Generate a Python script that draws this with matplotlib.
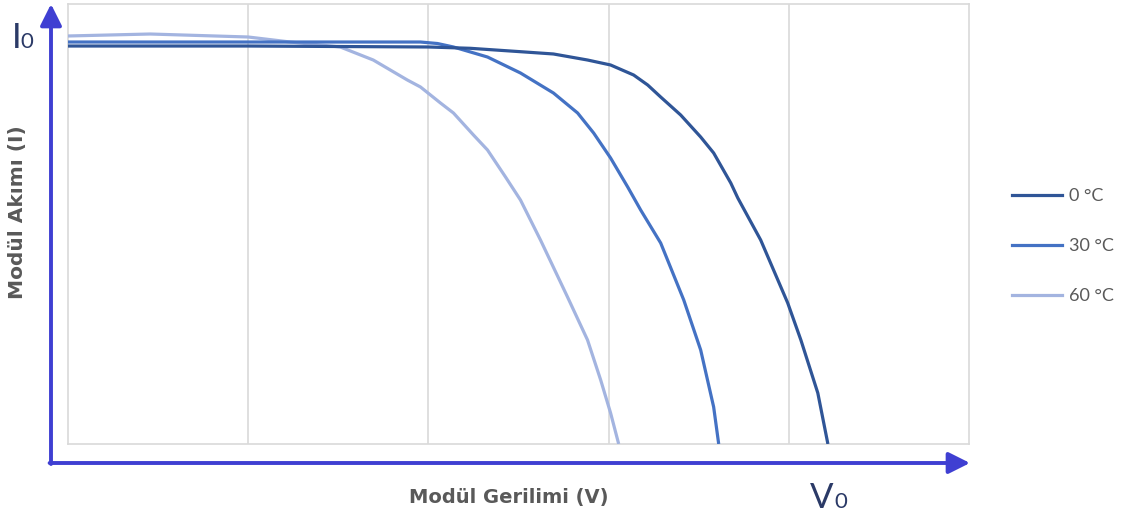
import matplotlib
matplotlib.use("Agg")
import matplotlib.pyplot as plt
from matplotlib.lines import Line2D
from matplotlib.patches import FancyArrowPatch

plt.rcParams['font.family'] = ['Lato', 'DejaVu Sans']

# Data (voltage in grid units 0..5, current in units 0..10)
v_0c = [0, 1, 2, 2.233, 2.511, 2.694, 2.883, 3.011, 3.139, 3.217, 3.289, 3.4, 3.511, 3.583,
        3.678, 3.717, 3.844, 3.994, 4.067, 4.161, 4.217]
i_0c = [9.045, 9.045, 9.023, 8.993, 8.916, 8.864, 8.727, 8.614, 8.386, 8.159, 7.886, 7.477, 6.977, 6.614,
        5.932, 5.591, 4.636, 3.205, 2.364, 1.159, 0.0]

v_30c = [0, 1, 1.956, 2.05, 2.139, 2.328, 2.511, 2.694, 2.828, 2.917, 3.011, 3.106, 3.178, 3.289, 3.417,
         3.511, 3.583, 3.611]
i_30c = [9.136, 9.136, 9.136, 9.102, 9.023, 8.795, 8.432, 7.977, 7.523, 7.068, 6.5, 5.841, 5.318, 4.568, 3.273,
         2.136, 0.841, 0.0]

v_60c = [0, 0.456, 1, 1.233, 1.511, 1.694, 1.883, 1.956, 2.067, 2.139, 2.25, 2.328, 2.428, 2.511,
         2.622, 2.772, 2.883, 2.956, 3.011, 3.056]
i_60c = [9.273, 9.318, 9.25, 9.136, 9.023, 8.727, 8.273, 8.114, 7.75, 7.523, 7.023, 6.682, 6.068, 5.545,
         4.636, 3.341, 2.364, 1.455, 0.705, 0.0]

labels = ["0 °C", "30 °C", "60 °C"]
colors = ["#2F5597", "#4472C4", "#A3B4E0"]

W, H = 1126, 517
fig = plt.figure(figsize=(W / 100, H / 100), dpi=100)
ax = fig.add_axes([68 / W, 1 - 444 / H, (969 - 68) / W, (444 - 4) / H])

ax.set_xlim(0, 5)
ax.set_ylim(0, 10)
ax.set_xticks([1, 2, 3, 4])
ax.set_yticks([])
ax.tick_params(axis='x', length=0, labelbottom=False)
ax.grid(axis='x', color='#D9D9D9', lw=1.2)
for s in ax.spines.values():
    s.set_color('#D9D9D9')
    s.set_linewidth(1.2)

series = [(v_60c, i_60c, colors[2]), (v_30c, i_30c, colors[1]), (v_0c, i_0c, colors[0])]
for v, i, c in series:
    ax.plot(v, i, color=c, lw=2.3, solid_joinstyle='round', solid_capstyle='butt', zorder=3)

# Legend
handles = [Line2D([0], [0], color=c, lw=2.3) for c in colors]
fig.legend(handles, labels, loc='center left', bbox_to_anchor=(1012 / W, 1 - 246 / H),
           frameon=False, fontsize=13, labelspacing=1.88, handlelength=2.78,
           handletextpad=0.39, labelcolor='#595959', borderaxespad=0, borderpad=0)

# Axis arrows
arrow_color = '#3F3FD2'
fig.add_artist(FancyArrowPatch(
    (51, H - 464), (51, H - 4), transform=None,
    arrowstyle='-|>,head_length=13,head_width=6.5', color=arrow_color, lw=2.8,
    shrinkA=0, shrinkB=0))
fig.add_artist(FancyArrowPatch(
    (49.6, H - 463), (970, H - 463), transform=None,
    arrowstyle='-|>,head_length=13,head_width=6.5', color=arrow_color, lw=2.8,
    shrinkA=0, shrinkB=0))

# Axis titles
fig.text(509 / W, 1 - 497 / H, "Modül Gerilimi (V)", ha='center', va='center',
         fontsize=14, fontweight='bold', color='#595959', family='DejaVu Sans')
fig.text(18 / W, 1 - 212 / H, "Modül Akımı (I)", ha='center', va='center',
         rotation=90, fontsize=14.5, fontweight='bold', color='#595959', family='DejaVu Sans')

# I0 and V0 labels
navy = '#2B3A67'
fig.text(12 / W, 1 - 48 / H, "I", ha='left', va='baseline', fontsize=25, color=navy)
fig.text(20 / W, 1 - 48 / H, "0", ha='left', va='baseline', fontsize=16, color=navy)
fig.text(810 / W, 1 - 508 / H, "V", ha='left', va='baseline', fontsize=25, color=navy)
fig.text(834 / W, 1 - 508 / H, "0", ha='left', va='baseline', fontsize=16, color=navy)

fig.savefig("out.png", dpi=100)
